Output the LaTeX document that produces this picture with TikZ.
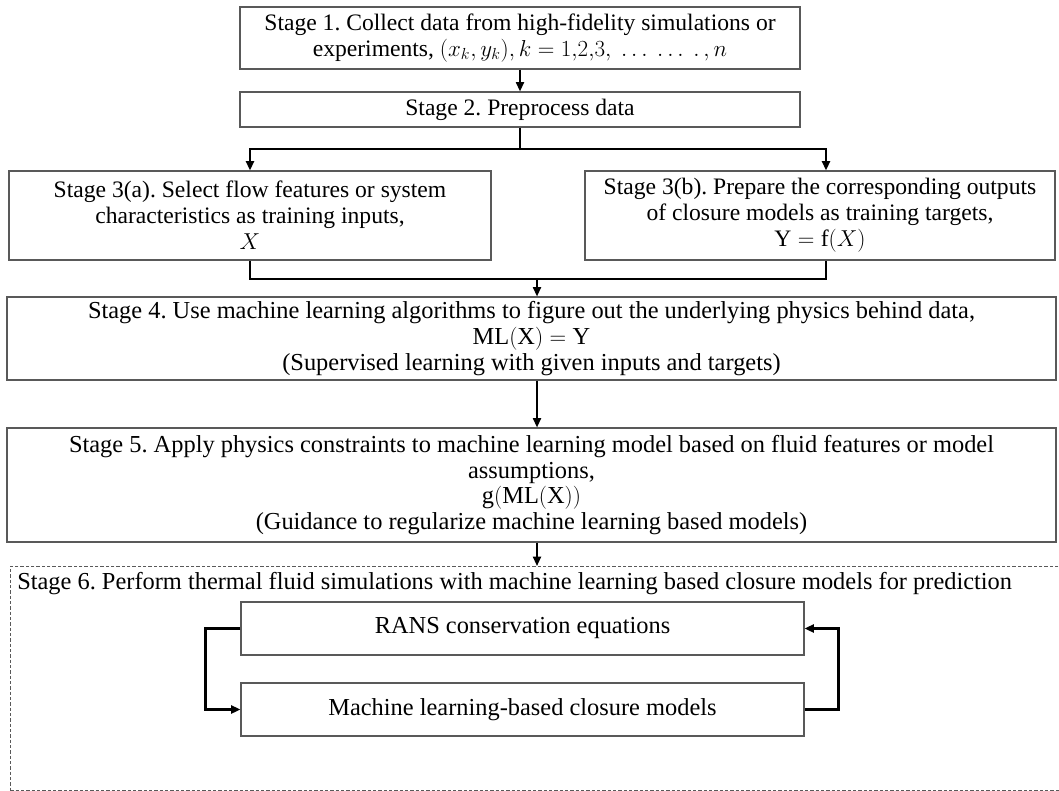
\documentclass[tikz,border=0pt]{standalone}
\usepackage{fontspec}
\setmainfont{Liberation Serif}
\usetikzlibrary{arrows.meta,calc}
\begin{document}
\frenchspacing
\begin{tikzpicture}[x=0.75pt,y=-0.75pt,
  txt/.style={font=\fontsize{17.7}{19.5}\selectfont},
  txtb/.style={font=\fontsize{18.3}{19.3}\selectfont},
  box/.style={txt, draw=black!65, line width=0.8pt, align=center, inner sep=0pt},
  boxb/.style={box, txtb},
  link/.style={line width=1.6pt, line join=miter},
  arr/.style={line width=1.4pt, -{Triangle[length=7pt,width=6pt]}},
  arrs/.style={line width=1.6pt, {Triangle[length=7pt,width=6pt]}-{Triangle[length=7pt,width=6pt]}},
  loop/.style={line width=1.8pt, -{Triangle[length=7pt,width=6pt]}},
]
\useasboundingbox (0,0) rectangle (1059,791);
\fill[white] (0,0) rectangle (1059,791);

\node[box, minimum width=420pt, minimum height=46.5pt] (s1) at (520,38)
  {Stage 1. Collect data from high-fidelity simulations or\\
   experiments, $(x_k,y_k), k=1{,}2{,}3,\ \ldots\ \ldots\ .\,,n$};
\node[box, minimum width=420pt, minimum height=26.25pt] (s2) at (520,109.5)
  {Stage 2. Preprocess data};
\node[box, minimum width=361.5pt, minimum height=66.75pt] (s3a) at (250,215.5)
  {Stage 3(a). Select flow features or system\\
   characteristics as training inputs,\\ $X$};
\node[box, minimum width=352.5pt, minimum height=66.75pt] (s3b) at (820,215.5)
  {Stage 3(b). Prepare the corresponding outputs\\
   of closure models as training targets,\\ $\mathrm{Y}=\mathrm{f}(X)$};
\node[boxb, minimum width=786.75pt, minimum height=62.25pt] (s4) at (531.5,338.5)
  {Stage 4. Use machine learning algorithms to figure out the underlying physics behind data,\\
   $\mathrm{ML(X)=Y}$\\
   (Supervised learning with given inputs and targets)};
\node[boxb, minimum width=786.75pt, minimum height=85.5pt] (s5) at (531.5,485)
  {Stage 5. Apply physics constraints to machine learning model based on fluid features or model\\
   assumptions,\\
   $\mathrm{g(ML(X))}$\\
   (Guidance to regularize machine learning based models)};
\node[draw=black!65, dashed, dash pattern=on 2.5pt off 1.5pt, line width=0.6pt,
      minimum width=795pt, minimum height=168pt, inner sep=0pt, anchor=north west] (s6) at (10,566) {};
\node[txtb, anchor=west, inner sep=0pt] (t6) at (17,584)
  {Stage 6. Perform thermal fluid simulations with machine learning based closure models for prediction};
\node[boxb, minimum width=422.25pt, minimum height=39.75pt] (rans) at (522.5,628.5)
  {RANS conservation equations};
\node[boxb, minimum width=422.25pt, minimum height=39.75pt] (ml) at (522.5,709.5)
  {Machine learning-based closure models};

\coordinate (j1) at (520,149);
\coordinate (bx) at (826,0);
\coordinate (j2) at (537,279);

\draw[arr] (s1) -- (s2);
\draw[link] (s2.south) -- (j1);
\draw[arrs] (s3a.north) |- (j1) -| (s3b.north -| bx);
\draw[link] (s3a.south) |- (j2) -| (s3b.south -| bx);
\draw[arr] (j2) -- (j2 |- s4.north);
\draw[arr] (s4.south -| j2) -- (s5.north -| j2);
\draw[arr] (s5.south -| j2) -- (s6.north -| j2);
\draw[loop] (rans.west) -- ++(-35,0) |- (ml.west);
\draw[loop] (ml.east) -- ++(34,0) |- (rans.east);
\end{tikzpicture}
\end{document}
